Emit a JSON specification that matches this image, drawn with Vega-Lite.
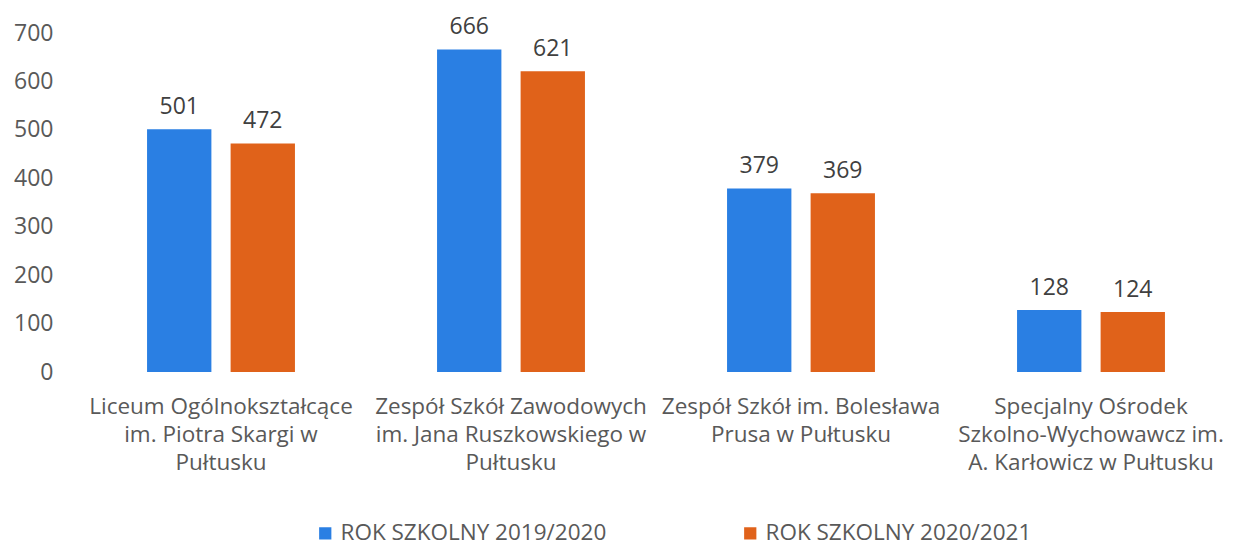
{
  "$schema": "https://vega.github.io/schema/vega-lite/v6.json",
  "autosize": {"type": "none"},
  "width": 1160,
  "height": 339,
  "padding": {"left": 76, "top": 33, "right": 0, "bottom": 181},
  "background": "white",
  "config": {
    "font": "Open Sans",
    "view": {"stroke": null}
  },
  "data": {
    "values": [
      {"szkola": "Liceum Ogólnokształcące|im. Piotra Skargi w|Pułtusku", "rok": "ROK SZKOLNY 2019/2020", "liczba": 501},
      {"szkola": "Liceum Ogólnokształcące|im. Piotra Skargi w|Pułtusku", "rok": "ROK SZKOLNY 2020/2021", "liczba": 472},
      {"szkola": "Zespół Szkół Zawodowych|im. Jana Ruszkowskiego w|Pułtusku", "rok": "ROK SZKOLNY 2019/2020", "liczba": 666},
      {"szkola": "Zespół Szkół Zawodowych|im. Jana Ruszkowskiego w|Pułtusku", "rok": "ROK SZKOLNY 2020/2021", "liczba": 621},
      {"szkola": "Zespół Szkół im. Bolesława|Prusa w Pułtusku", "rok": "ROK SZKOLNY 2019/2020", "liczba": 379},
      {"szkola": "Zespół Szkół im. Bolesława|Prusa w Pułtusku", "rok": "ROK SZKOLNY 2020/2021", "liczba": 369},
      {"szkola": "Specjalny Ośrodek|Szkolno-Wychowawcz im.|A. Karłowicz w Pułtusku", "rok": "ROK SZKOLNY 2019/2020", "liczba": 128},
      {"szkola": "Specjalny Ośrodek|Szkolno-Wychowawcz im.|A. Karłowicz w Pułtusku", "rok": "ROK SZKOLNY 2020/2021", "liczba": 124}
    ]
  },
  "encoding": {
    "x": {
      "field": "szkola", "type": "nominal", "sort": null,
      "scale": {"paddingInner": 0.49, "paddingOuter": 0.245},
      "axis": {
        "title": null, "labelAngle": 0, "domain": false, "ticks": false,
        "labelExpr": "split(datum.label, '|')",
        "labelFontSize": 22.5, "labelColor": "#595959", "labelLineHeight": 28,
        "labelPadding": 34, "labelBaseline": "middle", "labelLimit": 400
      }
    },
    "xOffset": {"field": "rok", "type": "nominal", "scale": {"paddingInner": 0.23}},
    "y": {
      "field": "liczba", "type": "quantitative",
      "scale": {"domain": [0, 700]},
      "axis": {
        "title": null, "values": [0, 100, 200, 300, 400, 500, 600, 700],
        "grid": false, "domain": false, "ticks": false,
        "labelFontSize": 23, "labelColor": "#595959", "labelPadding": 23
      }
    }
  },
  "layer": [
    {
      "mark": {"type": "bar"},
      "encoding": {
        "color": {
          "field": "rok", "type": "nominal",
          "scale": {"range": ["#2a7fe3", "#e0621a"]},
          "legend": {
            "title": null, "orient": "none", "direction": "horizontal",
            "legendX": 238, "legendY": 489,
            "symbolType": "square", "symbolSize": 150, "symbolStrokeWidth": 0,
            "labelFontSize": 22.5, "labelColor": "#595959",
            "columnPadding": 132, "labelLimit": 400
          }
        }
      }
    },
    {
      "mark": {"type": "text", "baseline": "bottom", "dy": -10, "fontSize": 23, "color": "#404040"},
      "encoding": {"text": {"field": "liczba", "type": "quantitative"}}
    }
  ]
}
